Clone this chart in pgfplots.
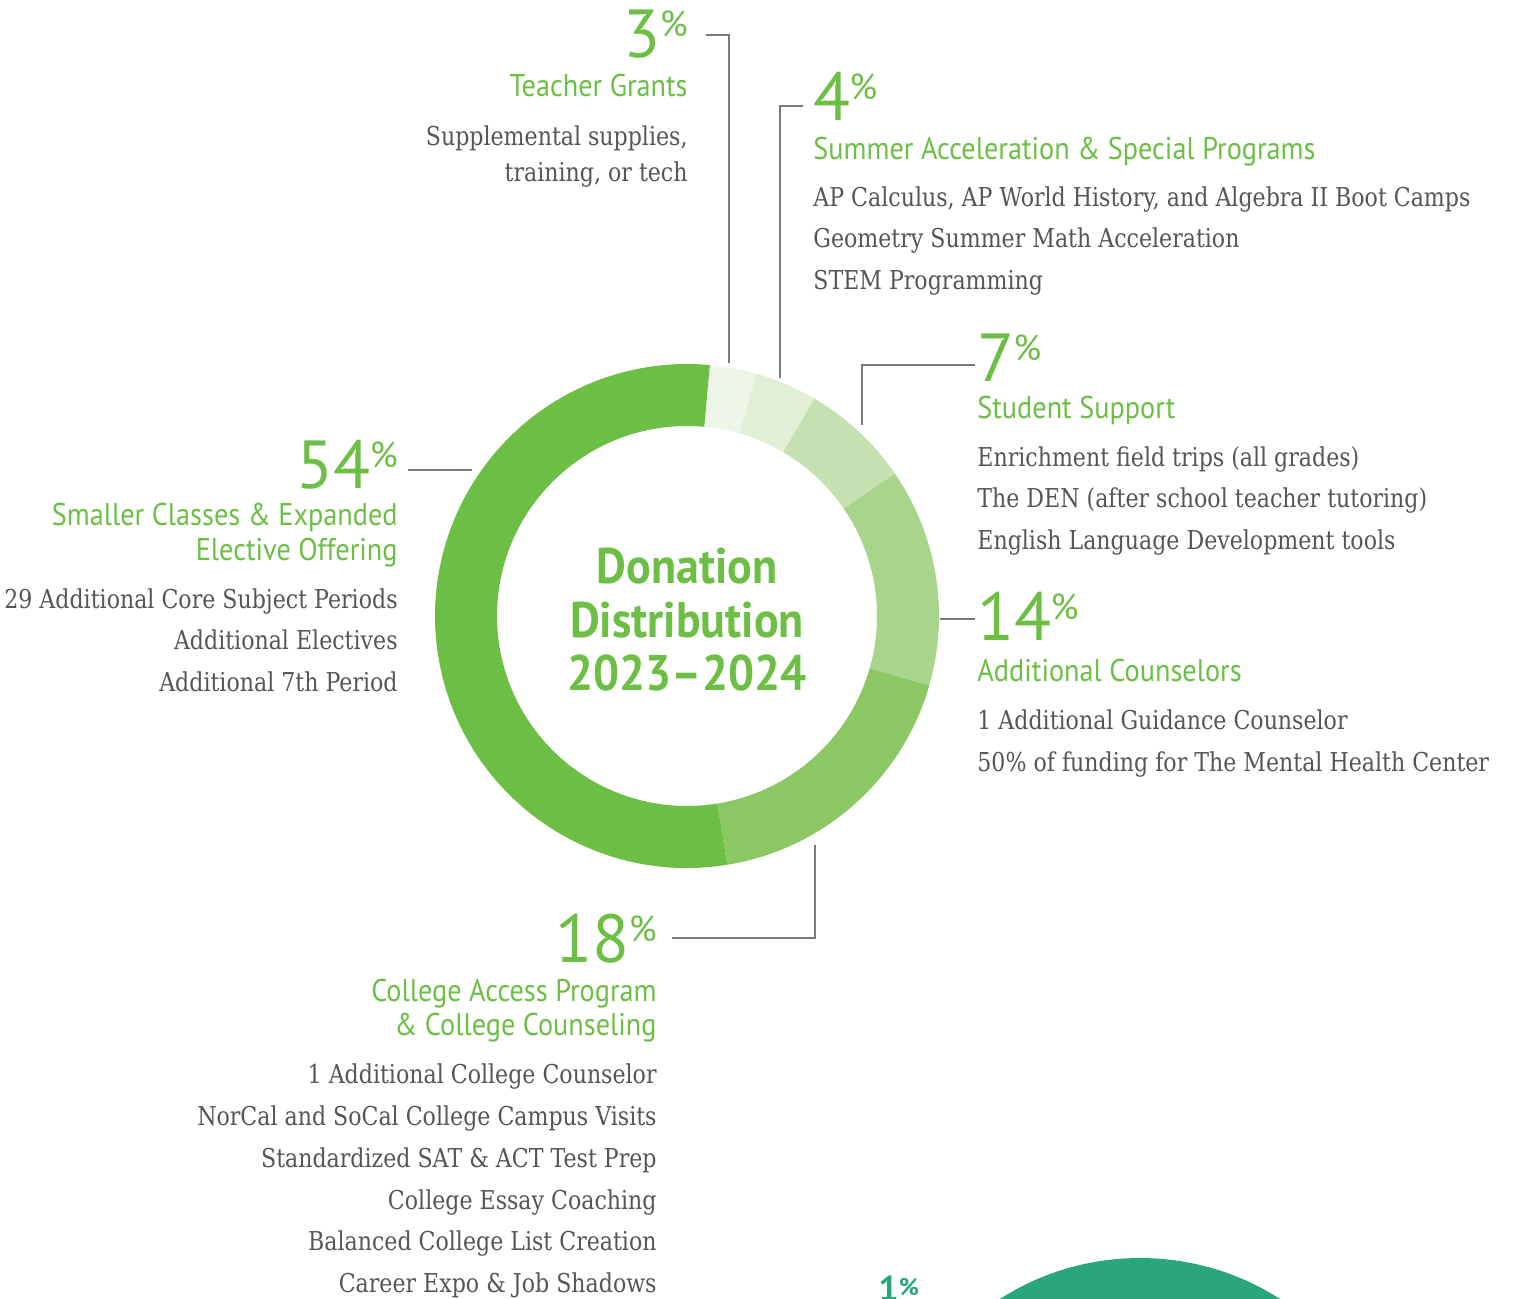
\documentclass[border=0pt]{standalone}
\usepackage{pgfplots}
\pgfplotsset{compat=1.18}
\usepackage{fontspec}
\setmainfont{DejaVu Serif}
\newfontfamily\bodyfont{DejaVu Serif}[FakeStretch=0.85]
\newfontfamily\headfont{PT Sans}[FakeStretch=0.9]
\newfontfamily\numfont{PT Sans}
\newfontfamily\titlefont{PT Sans}[FakeStretch=0.92]
\definecolor{gmain}{HTML}{6CBE45}
\definecolor{g18}{HTML}{8BC763}
\definecolor{g14}{HTML}{A9D48B}
\definecolor{g7}{HTML}{C6E1B1}
\definecolor{g4}{HTML}{E1EFD6}
\definecolor{g3}{HTML}{EEF6E8}
\definecolor{txt}{HTML}{555555}
\definecolor{lead}{HTML}{7A7A7A}
\definecolor{tealc}{HTML}{2AA67D}
\newcommand{\bd}{\bodyfont\fontsize{13}{16}\selectfont\color{txt}}
\newcommand{\hd}{\headfont\fontsize{15.7}{18}\selectfont\color{gmain}}
\newcommand{\pct}[1]{{\numfont\fontsize{34}{36}\selectfont\color{gmain}#1}\kern-0.5pt\raisebox{10.5pt}{\numfont\fontsize{18}{20}\selectfont\color{gmain}\%}}
\begin{document}
\begin{tikzpicture}
\begin{axis}[width=757pt,height=649.5pt,scale only axis,
  xmin=0,xmax=1514,ymin=0,ymax=1299,y dir=reverse,hide axis,clip=false]
\coordinate (LL) at (axis cs:0,1299);
\coordinate (UR) at (axis cs:1514,0);
% donut: shares in percent (start, share)
\foreach \s/\p/\c in {0/3/g3,3/4/g4,7/7/g7,14/14/g14,28/18/g18,46/54/gmain}{
  \pgfmathsetmacro\aa{84.8-3.6*\s}
  \pgfmathsetmacro\bb{\aa-3.6*\p}
  \edef\temp{\noexpand\fill[\c] ([shift={(\aa:126pt)}]axis cs:687,616) arc[start angle=\aa,end angle=\bb,radius=126pt] -- ++(\bb:-31pt) arc[start angle=\bb,end angle=\aa,radius=95pt] -- cycle;}
  \temp
}
% teal circle at bottom
\fill[tealc] (axis cs:1140,1518) circle[radius=130pt];
\node[anchor=base west,inner sep=0] at (axis cs:878,1301) {\numfont\bfseries\fontsize{18}{19}\selectfont\color{tealc}1\raisebox{3pt}{\fontsize{12}{13}\selectfont\%}};
% leader lines
\draw[lead,line width=0.75pt] (axis cs:706,35) -- (axis cs:729,35) -- (axis cs:729,363);
\draw[lead,line width=0.75pt] (axis cs:803,106) -- (axis cs:780,106) -- (axis cs:780,378);
\draw[lead,line width=0.75pt] (axis cs:975,365) -- (axis cs:862,365) -- (axis cs:862,425);
\draw[lead,line width=0.75pt] (axis cs:940,619) -- (axis cs:975,619);
\draw[lead,line width=0.75pt] (axis cs:408,470) -- (axis cs:472,470);
\draw[lead,line width=0.75pt] (axis cs:672,938) -- (axis cs:815,938) -- (axis cs:815,845);
% center title
\node[anchor=base,inner sep=0] at (axis cs:687,583) {\titlefont\bfseries\fontsize{25}{28}\selectfont\color{gmain}Donation};
\node[anchor=base,inner sep=0] at (axis cs:687,637) {\titlefont\bfseries\fontsize{25}{28}\selectfont\color{gmain}Distribution};
\node[anchor=base,inner sep=0] at (axis cs:687,690) {\titlefont\bfseries\fontsize{25}{28}\selectfont\color{gmain}2023\textendash 2024};
% 3%
\node[anchor=base east,inner sep=0] at (axis cs:688,57) {\pct{3}};
\node[anchor=base east,inner sep=0] at (axis cs:688,96) {\hd Teacher Grants};
\node[anchor=base east,inner sep=0] at (axis cs:688,145) {\bd Supplemental supplies,};
\node[anchor=base east,inner sep=0] at (axis cs:688,181) {\bd training, or tech};
% 4%
\node[anchor=base west,inner sep=0] at (axis cs:813,120) {\pct{4}};
\node[anchor=base west,inner sep=0] at (axis cs:813,159) {\hd Summer Acceleration \& Special Programs};
\node[anchor=base west,inner sep=0] at (axis cs:813,206) {\bd AP Calculus, AP World History, and Algebra II Boot Camps};
\node[anchor=base west,inner sep=0] at (axis cs:813,247) {\bd Geometry Summer Math Acceleration};
\node[anchor=base west,inner sep=0] at (axis cs:813,289) {\bd STEM Programming};
% 7%
\node[anchor=base west,inner sep=0] at (axis cs:977,381) {\pct{7}};
\node[anchor=base west,inner sep=0] at (axis cs:977,418) {\hd Student Support};
\node[anchor=base west,inner sep=0] at (axis cs:977,466) {\bd Enrichment field trips (all grades)};
\node[anchor=base west,inner sep=0] at (axis cs:977,507) {\bd The DEN (after school teacher tutoring)};
\node[anchor=base west,inner sep=0] at (axis cs:977,549) {\bd English Language Development tools};
% 14%
\node[anchor=base west,inner sep=0] at (axis cs:977,640) {\pct{14}};
\node[anchor=base west,inner sep=0] at (axis cs:977,681) {\hd Additional Counselors};
\node[anchor=base west,inner sep=0] at (axis cs:977,729) {\bd 1 Additional Guidance Counselor};
\node[anchor=base west,inner sep=0] at (axis cs:977,771) {\bd 50\% of funding for The Mental Health Center};
% 54%
\node[anchor=base east,inner sep=0] at (axis cs:398,488) {\pct{54}};
\node[anchor=base east,inner sep=0] at (axis cs:398,525) {\hd Smaller Classes \& Expanded};
\node[anchor=base east,inner sep=0] at (axis cs:398,560) {\hd Elective Offering};
\node[anchor=base east,inner sep=0] at (axis cs:398,608) {\bd 29 Additional Core Subject Periods};
\node[anchor=base east,inner sep=0] at (axis cs:398,649) {\bd Additional Electives};
\node[anchor=base east,inner sep=0] at (axis cs:398,691) {\bd Additional 7th Period};
% 18%
\node[anchor=base east,inner sep=0] at (axis cs:657,962) {\pct{18}};
\node[anchor=base east,inner sep=0] at (axis cs:657,1001) {\hd College Access Program};
\node[anchor=base east,inner sep=0] at (axis cs:657,1035) {\hd \& College Counseling};
\node[anchor=base east,inner sep=0] at (axis cs:657,1083) {\bd 1 Additional College Counselor};
\node[anchor=base east,inner sep=0] at (axis cs:657,1125) {\bd NorCal and SoCal College Campus Visits};
\node[anchor=base east,inner sep=0] at (axis cs:657,1167) {\bd Standardized SAT \& ACT Test Prep};
\node[anchor=base east,inner sep=0] at (axis cs:657,1209) {\bd College Essay Coaching};
\node[anchor=base east,inner sep=0] at (axis cs:657,1250) {\bd Balanced College List Creation};
\node[anchor=base east,inner sep=0] at (axis cs:657,1292) {\bd Career Expo \& Job Shadows};
\end{axis}
\pgfresetboundingbox
\path[use as bounding box] (LL) rectangle (UR);
\end{tikzpicture}
\end{document}
